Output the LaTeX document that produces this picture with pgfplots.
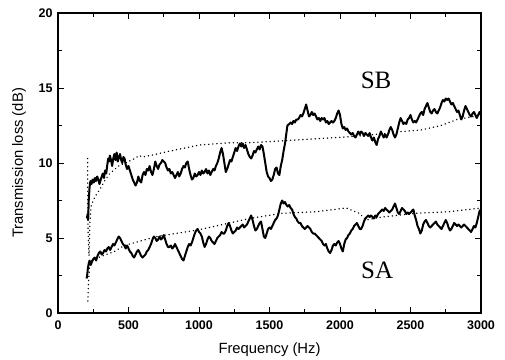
\documentclass[border=0pt]{standalone}
\usepackage{pgfplots}
\pgfplotsset{compat=1.18}
\usepackage{fontspec}
\setmainfont{Liberation Sans}
\newfontfamily\seriffont{Liberation Serif}
\begin{document}
\begin{tikzpicture}
\begin{axis}[
  scale only axis, width=423pt, height=300pt,
  xmin=0, xmax=3000, ymin=0, ymax=20,
  xtick={0,500,...,3000}, ytick={0,5,...,20},
  minor xtick={250,750,...,2750}, minor ytick={2.5,7.5,...,17.5},
  tick align=inside, major tick length=6pt, minor tick length=4pt,
  tick style={black, line width=1pt},
  axis line style={line width=1.3pt},
  /pgf/number format/assume math mode=true,
  /pgf/number format/1000 sep={},
  ticklabel style={font=\bfseries\fontsize{12.5}{13}\selectfont},
  xticklabel style={yshift=-4pt},
  yticklabel style={xshift=-2pt},
  xlabel={Frequency (Hz)}, ylabel={Transmission loss (dB)},
  label style={font=\fontsize{14.8}{16}\selectfont},
  xlabel style={at={(axis description cs:0.5,-0.123)}, anchor=center},
  ylabel style={at={(axis description cs:-0.092,0.5)}, anchor=center},
]
% SB theory (dotted)
\addplot[black, line width=1.5pt, line cap=round, dash pattern=on 0.1pt off 4pt] coordinates {
(210,10.3) (211,8) (213,5.5) (220,3.8) (226,6.0) (236,7.2) (262,7.75) (300,8.3) (330,8.8) (368,9.3) (430,9.8) (500,10.1) (545,10.3) (575,10.5) (600,10.4) (680,10.55) (771,10.75) (900,11.0) (1004,11.2) (1216,11.35) (1358,11.35) (1627,11.5) (2065,11.75) (2300,11.95) (2440,12.1) (2574,12.2) (2716,12.5) (2829,12.9) (2949,13.1) (3000,13.2)};
% SA theory (dotted)
\addplot[black, line width=1.5pt, line cap=round, dash pattern=on 0.1pt off 4pt] coordinates {
(212,0.8) (216,2.0) (224,3.1) (240,3.5) (300,3.75) (400,4.1) (470,4.5) (700,5.1) (1000,5.55) (1216,6.0) (1358,6.3) (1591,6.65) (1832,6.75) (2044,7.0) (2136,6.65) (2185,6.2) (2300,6.4) (2539,6.65) (2772,6.75) (3000,7.0)};
% SB measured
\addplot[black, line width=2pt, line join=round] coordinates {
(205,6.3) (210,6.6) (214,6.2) (218,7.5) (224,8.4) (230,8.8) (238,8.6) (246,8.9) (254,8.7) (262,9.0) (270,8.8) (278,9.1) (286,8.9) (294,8.6) (300,8.8) (310,9.1) (318,9.3) (326,9.0) (334,9.5) (342,9.3) (350,9.9) (356,10.3) (362,10.1) (368,10.5) (376,10.2) (384,9.8) (392,10.3) (400,10.6) (408,10.2) (416,10.7) (424,10.1) (432,10.4) (440,10.6) (448,10.2) (456,10.0) (464,10.4) (472,10.3) (480,9.9) (490,9.6) (500,9.8) (510,9.5) (520,9.2) (530,8.9) (540,8.7) (550,8.5) (560,8.7) (570,9.1) (580,8.8) (590,8.7) (600,9.2) (610,9.4) (620,9.2) (630,9.6) (640,9.5) (650,9.8) (660,9.4) (670,9.2) (680,9.6) (690,10.1) (700,9.8) (710,9.6) (720,9.9) (730,10.0) (740,10.2) (750,10.1) (760,10.0) (770,9.7) (780,9.5) (790,9.6) (800,9.3) (810,9.4) (820,9.2) (830,9.0) (840,9.2) (850,9.4) (860,9.1) (870,9.3) (880,9.6) (890,9.8) (900,9.7) (910,10.0) (920,10.1) (930,9.6) (940,9.2) (950,8.9) (960,9.0) (970,9.3) (980,9.1) (990,9.2) (1000,9.4) (1010,9.2) (1020,9.5) (1030,9.3) (1040,9.4) (1050,9.6) (1060,9.3) (1070,9.5) (1080,9.2) (1090,9.4) (1100,9.6) (1110,9.5) (1120,9.8) (1130,10.0) (1140,10.3) (1150,10.7) (1160,11.0) (1170,10.6) (1180,10.0) (1190,9.4) (1200,9.6) (1210,9.9) (1220,10.2) (1230,10.1) (1240,10.4) (1250,10.7) (1260,11.0) (1270,10.8) (1280,11.1) (1290,11.3) (1300,11.1) (1310,11.3) (1320,11.0) (1330,11.2) (1340,10.9) (1350,10.6) (1360,10.4) (1370,10.3) (1380,10.5) (1390,10.8) (1400,10.7) (1410,10.9) (1420,11.1) (1430,10.9) (1440,11.2) (1450,11.1) (1460,10.6) (1470,10.0) (1480,9.4) (1490,9.1) (1500,9.0) (1510,8.8) (1520,8.9) (1530,9.2) (1540,9.6) (1550,9.7) (1560,9.3) (1570,9.2) (1580,9.8) (1590,10.2) (1600,10.8) (1610,11.3) (1620,12.0) (1627,12.5) (1640,12.6) (1650,12.7) (1660,12.6) (1670,12.8) (1680,12.7) (1690,12.9) (1700,12.9) (1710,13.0) (1720,13.2) (1730,13.1) (1740,13.3) (1750,13.6) (1760,13.9) (1770,13.5) (1780,13.1) (1790,13.2) (1800,13.4) (1810,13.2) (1820,13.3) (1830,13.1) (1840,12.9) (1850,13.0) (1860,12.8) (1870,13.0) (1880,12.9) (1890,13.0) (1900,12.7) (1910,12.8) (1920,12.6) (1930,12.7) (1940,12.8) (1950,12.7) (1960,12.8) (1970,13.0) (1980,13.3) (1990,13.5) (2000,13.2) (2010,12.6) (2020,12.3) (2030,12.4) (2040,12.2) (2050,12.3) (2060,12.1) (2070,12.0) (2080,11.9) (2090,12.0) (2100,11.8) (2110,11.7) (2120,11.9) (2130,12.1) (2140,11.9) (2150,12.1) (2160,12.0) (2170,11.8) (2180,12.0) (2190,11.9) (2200,11.8) (2210,12.0) (2220,11.7) (2230,11.5) (2240,11.7) (2250,11.4) (2260,11.2) (2270,11.6) (2280,11.8) (2290,12.1) (2300,11.9) (2310,11.7) (2320,11.9) (2330,11.7) (2340,11.9) (2350,12.2) (2360,12.4) (2370,12.2) (2380,11.9) (2390,11.7) (2400,11.9) (2410,12.3) (2420,12.7) (2430,13.0) (2440,12.8) (2450,12.6) (2460,12.7) (2470,12.6) (2480,12.9) (2490,13.0) (2500,13.2) (2510,12.9) (2520,12.7) (2530,12.8) (2540,12.7) (2550,12.9) (2560,13.1) (2570,13.3) (2580,13.4) (2590,13.2) (2600,13.6) (2610,13.8) (2620,14.0) (2630,13.7) (2640,13.4) (2650,13.3) (2660,13.5) (2670,13.6) (2680,13.4) (2690,13.3) (2700,13.5) (2710,13.7) (2720,14.0) (2730,14.2) (2740,14.1) (2750,14.3) (2760,14.2) (2770,14.3) (2780,14.1) (2790,13.9) (2800,14.0) (2810,13.8) (2820,13.6) (2830,13.4) (2840,13.5) (2850,13.2) (2860,12.9) (2870,13.1) (2880,13.5) (2890,13.8) (2900,13.6) (2910,13.4) (2920,13.2) (2930,13.1) (2940,13.3) (2950,13.4) (2960,13.2) (2970,13.0) (2980,13.2) (2990,13.4) (3000,13.2)};
% SA measured
\addplot[black, line width=2pt, line join=round] coordinates {
(203,2.3) (208,2.6) (212,3.0) (218,3.3) (224,3.5) (232,3.2) (240,3.4) (250,3.6) (260,3.7) (270,3.5) (280,3.8) (290,4.0) (300,4.1) (310,3.9) (320,4.0) (330,4.2) (340,4.1) (350,4.3) (360,4.4) (370,4.2) (380,4.4) (390,4.6) (400,4.5) (410,4.7) (420,4.9) (430,5.1) (440,5.0) (450,4.8) (460,4.6) (470,4.5) (480,4.3) (490,4.5) (500,4.3) (510,4.1) (520,4.0) (530,3.8) (540,3.7) (550,3.9) (560,4.1) (570,4.2) (580,4.0) (590,3.8) (600,3.7) (610,3.8) (620,3.9) (630,4.1) (640,4.2) (650,4.4) (660,4.6) (670,4.9) (680,5.1) (690,5.0) (700,4.8) (710,4.9) (720,5.1) (730,4.9) (740,5.0) (750,5.2) (760,4.9) (770,4.6) (780,4.4) (790,4.4) (800,4.5) (810,4.3) (820,4.4) (830,4.6) (840,4.4) (850,4.2) (860,4.0) (870,3.8) (880,3.6) (890,3.5) (900,3.8) (910,4.1) (920,4.4) (930,4.6) (940,4.5) (950,4.7) (960,5.0) (970,5.3) (980,5.5) (990,5.6) (1000,5.4) (1010,5.3) (1020,5.1) (1030,4.7) (1040,4.4) (1050,4.6) (1060,4.9) (1070,5.1) (1080,5.0) (1090,4.8) (1100,4.7) (1110,4.6) (1120,4.8) (1130,5.0) (1140,5.1) (1150,5.2) (1160,5.4) (1170,5.3) (1180,5.3) (1190,5.5) (1200,5.8) (1210,6.0) (1220,5.8) (1230,5.5) (1240,5.3) (1250,5.4) (1260,5.5) (1270,5.7) (1280,5.6) (1290,5.7) (1300,5.8) (1310,5.9) (1320,5.7) (1330,5.8) (1340,5.9) (1350,6.1) (1360,6.3) (1370,6.5) (1380,6.2) (1390,5.8) (1400,5.5) (1410,5.6) (1420,5.8) (1430,6.0) (1440,6.1) (1450,5.6) (1460,5.1) (1470,5.0) (1480,5.3) (1490,5.6) (1500,5.7) (1510,5.6) (1520,5.8) (1530,6.0) (1540,6.2) (1550,6.3) (1560,6.5) (1570,6.9) (1580,7.3) (1590,7.5) (1600,7.3) (1610,7.4) (1620,7.2) (1630,7.1) (1640,7.2) (1650,7.0) (1660,6.9) (1670,6.6) (1680,6.4) (1690,6.3) (1700,6.1) (1710,6.0) (1720,6.0) (1730,5.8) (1740,5.7) (1750,5.6) (1760,5.7) (1770,5.8) (1780,5.7) (1790,5.6) (1800,5.4) (1810,5.3) (1820,5.3) (1830,5.2) (1840,5.1) (1850,5.0) (1860,4.9) (1870,4.8) (1880,4.6) (1890,4.5) (1900,4.6) (1910,4.3) (1920,4.1) (1930,4.0) (1940,4.2) (1950,4.5) (1960,4.6) (1970,4.5) (1980,4.7) (1990,4.8) (2000,4.6) (2010,4.3) (2020,4.1) (2030,4.6) (2040,4.9) (2050,5.0) (2060,5.2) (2070,5.3) (2080,5.5) (2090,5.6) (2100,5.8) (2110,5.9) (2120,6.0) (2130,5.8) (2140,5.6) (2150,5.6) (2160,5.8) (2170,6.1) (2180,6.3) (2190,6.4) (2200,6.5) (2210,6.4) (2220,6.5) (2230,6.4) (2240,6.3) (2250,6.5) (2260,6.4) (2270,6.6) (2280,6.7) (2290,6.8) (2300,6.9) (2310,6.8) (2320,7.0) (2330,6.9) (2340,6.8) (2350,6.7) (2360,6.8) (2370,6.9) (2380,7.1) (2390,7.3) (2400,7.0) (2410,6.7) (2420,6.6) (2430,6.8) (2440,7.0) (2450,6.9) (2460,6.8) (2470,6.6) (2480,6.7) (2490,6.6) (2500,6.7) (2510,6.8) (2520,6.9) (2530,6.5) (2540,6.2) (2550,5.8) (2560,5.6) (2570,5.3) (2580,5.5) (2590,5.9) (2600,6.1) (2610,6.2) (2620,6.0) (2630,5.8) (2640,5.7) (2650,5.8) (2660,5.9) (2670,6.0) (2680,6.1) (2690,5.9) (2700,5.8) (2710,5.7) (2720,5.6) (2730,5.8) (2740,6.0) (2750,6.2) (2760,6.0) (2770,5.7) (2780,5.5) (2790,5.6) (2800,5.8) (2810,6.0) (2820,5.9) (2830,5.8) (2840,5.9) (2850,5.8) (2860,5.7) (2870,5.8) (2880,5.9) (2890,5.8) (2900,5.7) (2910,5.6) (2920,5.5) (2930,5.4) (2940,5.6) (2950,5.8) (2960,5.7) (2970,6.0) (2980,6.4) (2990,6.8) (3000,6.9)};
\node[font=\seriffont\fontsize{25}{26}\selectfont] at (axis cs:2256,15.5) {SB};
\node[font=\seriffont\fontsize{25}{26}\selectfont] at (axis cs:2263,2.87) {SA};
\end{axis}
\pgfresetboundingbox
\path ([shift={(-58pt,-46pt)}]current axis.south west) rectangle ([shift={(24pt,13pt)}]current axis.north east);
\end{tikzpicture}
\end{document}
